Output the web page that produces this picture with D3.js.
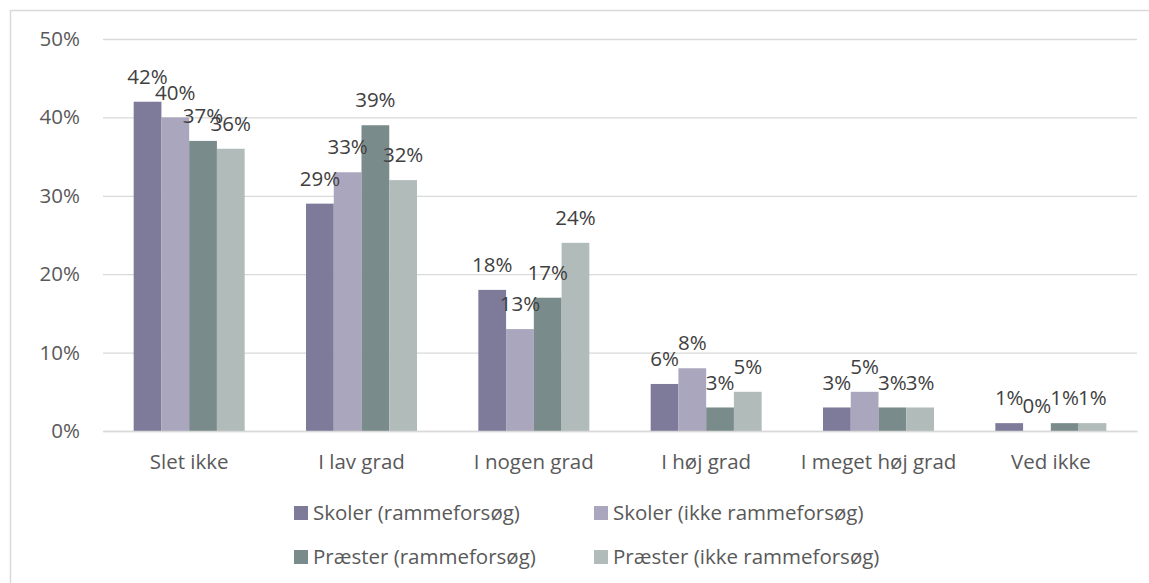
<!DOCTYPE html>
<html>
<head>
<meta charset="utf-8">
<script src="https://cdn.jsdelivr.net/npm/d3@7"></script>
<style>
  html, body { margin: 0; padding: 0; background: #fff; }
  svg { display: block; font-family: "Open Sans", "Liberation Sans", sans-serif; }
</style>
</head>
<body>
<div class="container"></div>
<script>
// categories on the x axis
const categories = ['Slet ikke', 'I lav grad', 'I nogen grad', 'I høj grad', 'I meget høj grad', 'Ved ikke'];

// series names (legend order)
const seriesNames = [
  'Skoler (rammeforsøg)',
  'Skoler (ikke rammeforsøg)',
  'Præster (rammeforsøg)',
  'Præster (ikke rammeforsøg)'
];

// values in percent, one list per series
const skolerRamme = [42, 29, 18, 6, 3, 1];
const skolerIkke = [40, 33, 13, 8, 5, 0];
const praesterRamme = [37, 39, 17, 3, 3, 1];
const praesterIkke = [36, 32, 24, 5, 3, 1];

// y axis ticks
const yTicks = [0, 10, 20, 30, 40, 50];

const seriesValues = [skolerRamme, skolerIkke, praesterRamme, praesterIkke];
const colors = ['#7e7a9a', '#aaa6bd', '#7a8b8b', '#b0bbba'];

const width = 1149, height = 583;
const textColor = '#595959';
const gridColor = '#d9d9d9';
const fontSize = 20.5;

const svg = d3.select('.container').append('svg')
  .attr('width', width)
  .attr('height', height);

// chart frame (runs off the right and bottom edge)
svg.append('rect')
  .attr('x', 10.5)
  .attr('y', 10.5)
  .attr('width', width + 20)
  .attr('height', height + 20)
  .attr('fill', 'none')
  .attr('stroke', gridColor)
  .attr('stroke-width', 1.5);

// scales
const x0 = d3.scaleBand()
  .domain(categories)
  .range([103, 1137])
  .paddingInner(0.356)
  .paddingOuter(0.178);

const x1 = d3.scaleBand()
  .domain(d3.range(seriesNames.length))
  .range([0, x0.bandwidth()]);

const y = d3.scaleLinear()
  .domain([0, 50])
  .range([431, 39]);

// gridlines + y labels via axis
const yAxis = d3.axisLeft(y)
  .tickValues(yTicks)
  .tickSize(-(1137 - 103))
  .tickPadding(23)
  .tickFormat(d => d + '%');

const gy = svg.append('g')
  .attr('transform', 'translate(103,0)')
  .call(yAxis);
gy.select('.domain').remove();
gy.selectAll('.tick line')
  .attr('stroke', gridColor)
  .attr('stroke-width', 1.3);
gy.selectAll('.tick text')
  .attr('fill', textColor)
  .attr('font-size', fontSize)
  .attr('font-family', '"Open Sans", sans-serif');

// bars
const groups = svg.append('g')
  .selectAll('g')
  .data(categories)
  .join('g')
  .attr('transform', d => `translate(${x0(d)},0)`);

groups.selectAll('rect')
  .data((d, i) => seriesValues.map((vals, s) => ({ s, v: vals[i] })))
  .join('rect')
  .attr('x', d => x1(d.s))
  .attr('y', d => y(d.v))
  .attr('width', x1.bandwidth())
  .attr('height', d => y(0) - y(d.v))
  .attr('fill', d => colors[d.s]);

// data labels
groups.selectAll('text')
  .data((d, i) => seriesValues.map((vals, s) => ({ s, v: vals[i] })))
  .join('text')
  .attr('x', d => x1(d.s) + x1.bandwidth() / 2)
  .attr('y', d => y(d.v) - 25)
  .attr('dy', '0.35em')
  .attr('text-anchor', 'middle')
  .attr('fill', '#404040')
  .attr('font-size', fontSize)
  .text(d => d.v + '%');

// x axis line + category labels
const xAxis = d3.axisBottom(x0).tickSize(0).tickPadding(23);
const gx = svg.append('g')
  .attr('transform', 'translate(0,431)')
  .call(xAxis);
gx.select('.domain')
  .attr('stroke', gridColor)
  .attr('stroke-width', 1.5);
gx.selectAll('.tick text')
  .attr('fill', textColor)
  .attr('font-size', fontSize)
  .attr('font-family', '"Open Sans", sans-serif');

// legend (2 x 2)
const legendX = [294, 594];
const legendY = [513, 557];
const legend = svg.append('g')
  .selectAll('g')
  .data(seriesNames)
  .join('g')
  .attr('transform', (d, i) => `translate(${legendX[i % 2]},${legendY[Math.floor(i / 2)]})`);

legend.append('rect')
  .attr('x', 0)
  .attr('y', -7)
  .attr('width', 14)
  .attr('height', 14)
  .attr('fill', (d, i) => colors[i]);

legend.append('text')
  .attr('x', 19)
  .attr('y', 0)
  .attr('dy', '0.35em')
  .attr('fill', textColor)
  .attr('font-size', fontSize)
  .text(d => d);
</script>
</body>
</html>
